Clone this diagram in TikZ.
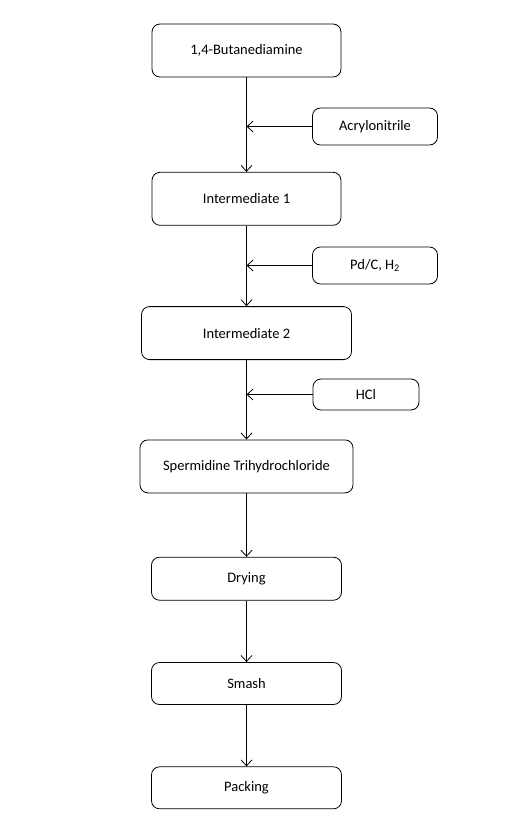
\documentclass[tikz,border=0pt]{standalone}
\usepackage{fontspec}
\setmainfont{Carlito}
\usepackage{tikz}
\usetikzlibrary{arrows.meta,positioning,calc}

\begin{document}
\begin{tikzpicture}[x=1pt,y=-1pt,
  box/.style={draw,rounded corners=8pt,align=center,minimum height=53pt,
              minimum width=189pt,font=\fontsize{14.5}{16}\selectfont,line width=0.8pt},
  addbox/.style={box,minimum height=37pt,minimum width=125pt},
  >={Straight Barb[length=6pt,width=11pt]}]
\useasboundingbox (0,0) rectangle (525,830);
\node[box] (butane) at (246.5,50.5) {1,4-Butanediamine};
\node[box,below=94.5pt of butane] (int1) {Intermediate 1};
\node[box,below=80.5pt of int1,minimum width=210pt] (int2) {Intermediate 2};
\node[box,below=79.5pt of int2,minimum width=213pt] (sperm) {Spermidine Trihydrochloride};
\node[box,below=63.5pt of sperm,minimum height=43pt,minimum width=190pt] (dry) {Drying};
\node[box,below=61.5pt of dry,minimum height=42pt,minimum width=190pt] (smash) {Smash};
\node[box,below=61.5pt of smash,minimum height=42pt,minimum width=190pt] (pack) {Packing};
% reagents fed in from the right
\node[addbox] (acryl) at (375,126.5) {Acrylonitrile};
\node[addbox] (pdc) at (375,265.5) {Pd/C, H\textsubscript{2}};
\node[addbox,minimum height=31pt,minimum width=106pt] (hcl) at (366,394.5) {HCl};
\draw[->,line width=0.8pt] (butane) -- (int1);
\draw[->,line width=0.8pt] (int1) -- (int2);
\draw[->,line width=0.8pt] (int2) -- (sperm);
\draw[->,line width=0.8pt] (sperm) -- (dry);
\draw[->,line width=0.8pt] (dry) -- (smash);
\draw[->,line width=0.8pt] (smash) -- (pack);
\draw[->,line width=0.8pt] (acryl.west) -- (acryl.west -| butane.south);
\draw[->,line width=0.8pt] (pdc.west) -- (pdc.west -| butane.south);
\draw[->,line width=0.8pt] (hcl.west) -- (hcl.west -| butane.south);
\end{tikzpicture}
\end{document}
